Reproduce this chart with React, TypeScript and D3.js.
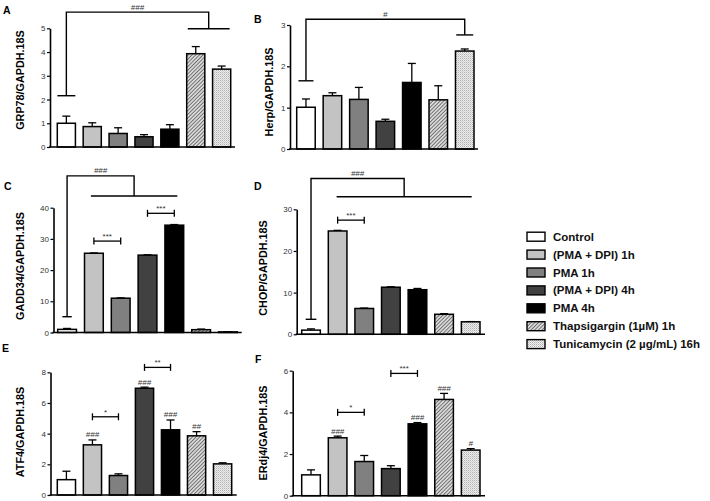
import React, { useEffect, useRef } from "react";
import * as d3 from "d3";

// ---------- data ----------
const categories = [
  "Control",
  "(PMA + DPI) 1h",
  "PMA 1h",
  "(PMA + DPI) 4h",
  "PMA 4h",
  "Thapsigargin (1\u00b5M) 1h",
  "Tunicamycin (2 \u00b5g/mL) 16h",
];

const grp78Mean = [1.0, 0.86, 0.57, 0.43, 0.75, 3.93, 3.28];
const grp78Err = [0.3, 0.16, 0.24, 0.09, 0.19, 0.3, 0.13];
const grp78Ticks = [0, 1, 2, 3, 4, 5];

const herpMean = [1.01, 1.29, 1.2, 0.67, 1.61, 1.19, 2.37];
const herpErr = [0.2, 0.07, 0.29, 0.05, 0.46, 0.34, 0.05];
const herpTicks = [0, 1, 2, 3];

const gadd34Mean = [1.0, 25.4, 11.0, 24.8, 34.4, 0.9, 0.2];
const gadd34Err = [0.3, 0.1, 0.1, 0.1, 0.2, 0.2, 0.05];
const gadd34Ticks = [0, 10, 20, 30, 40];

const chopMean = [1.0, 24.8, 6.2, 11.3, 10.7, 4.8, 3.0];
const chopErr = [0.3, 0.15, 0.1, 0.1, 0.3, 0.15, 0.05];
const chopTicks = [0, 10, 20, 30];

const atf4Mean = [1.0, 3.27, 1.27, 6.96, 4.25, 3.86, 2.03];
const atf4Err = [0.55, 0.32, 0.11, 0.07, 0.64, 0.27, 0.07];
const atf4Ticks = [0, 2, 4, 6, 8];
const atf4Hash = ["", "###", "", "###", "###", "##", ""];

const erdj4Mean = [1.0, 2.78, 1.64, 1.3, 3.45, 4.62, 2.19];
const erdj4Err = [0.24, 0.08, 0.29, 0.14, 0.06, 0.29, 0.07];
const erdj4Ticks = [0, 2, 4, 6];
const erdj4Hash = ["", "###", "", "", "###", "###", "#"];

// significance brackets (values in data units)
const gadd34Stars = [
  { from: 1, to: 2, y: 29.3, label: "***" },
  { from: 3, to: 4, y: 38.2, label: "***" },
];
const chopStars = [{ from: 1, to: 2, y: 27.4, label: "***" }];
const atf4Stars = [
  { from: 1, to: 2, y: 5.1, label: "*" },
  { from: 3, to: 4, y: 8.32, label: "**" },
];
const erdj4Stars = [
  { from: 1, to: 2, y: 4.0, label: "*" },
  { from: 3, to: 4, y: 5.87, label: "***" },
];

const grp78Group = { ref: 0, capY: 2.16, topY: 5.68, groupY: 4.98, from: 5, to: 6, label: "###" };
const herpGroup = { ref: 0, capY: 1.65, topY: 3.14, groupY: 2.76, from: 6, to: 6, label: "#" };
const gadd34Group = { ref: 0, capY: 5.06, topY: 50.2, groupY: 43.75, from: 1, to: 4, label: "###" };
const chopGroup = { ref: 0, capY: 3.6, topY: 37.4, groupY: 33.0, from: 1, to: 6, label: "###" };

// ---------- styles ----------
const fills = ["#ffffff", "#c3c3c3", "#808080", "#414141", "#000000", "url(#hatch)", "url(#dots)"];
const FONT = "'Liberation Sans', Arial, sans-serif";

type Group = { ref: number; capY: number; topY: number; groupY: number; from: number; to: number; label: string };
type Star = { from: number; to: number; y: number; label: string };

const panels = [
  { id: "A", label: "GRP78/GAPDH.18S", mean: grp78Mean, err: grp78Err, ticks: grp78Ticks,
    axisX: 50, y0: 147, yTop: 28.3, bx0: 57.3, bx1: 230.7, xEnd: 235,
    letterX: 3, letterY: 14, labelX: 24, labelY: 80, hash: null, stars: [] as Star[],
    group: grp78Group as Group | null, capW: 18, ext: 8 },
  { id: "B", label: "Herp/GAPDH.18S", mean: herpMean, err: herpErr, ticks: herpTicks,
    axisX: 290, y0: 149, yTop: 25, bx0: 296.7, bx1: 474, xEnd: 478,
    letterX: 254, letterY: 23, labelX: 273, labelY: 92, hash: null, stars: [] as Star[],
    group: herpGroup as Group | null, capW: 15, ext: 8.5 },
  { id: "C", label: "GADD34/GAPDH.18S", mean: gadd34Mean, err: gadd34Err, ticks: gadd34Ticks,
    axisX: 53.5, y0: 332.5, yTop: 207.7, bx0: 57.7, bx1: 237.3, xEnd: 241.7,
    letterX: 4, letterY: 189.5, labelX: 24, labelY: 266, hash: null, stars: gadd34Stars,
    group: gadd34Group as Group | null, capW: 9.4, ext: 3 },
  { id: "D", label: "CHOP/GAPDH.18S", mean: chopMean, err: chopErr, ticks: chopTicks,
    axisX: 296.7, y0: 334.3, yTop: 209.3, bx0: 301.7, bx1: 480, xEnd: 485,
    letterX: 254, letterY: 189.5, labelX: 267, labelY: 268, hash: null, stars: chopStars,
    group: chopGroup as Group | null, capW: 10.7, ext: 1 },
  { id: "E", label: "ATF4/GAPDH.18S", mean: atf4Mean, err: atf4Err, ticks: atf4Ticks,
    axisX: 50.5, y0: 495, yTop: 372.3, bx0: 57.3, bx1: 231.7, xEnd: 236.7,
    letterX: 2, letterY: 352, labelX: 24, labelY: 432, hash: atf4Hash, stars: atf4Stars,
    group: null as Group | null, capW: 0, ext: 0 },
  { id: "F", label: "ERdj4/GAPDH.18S", mean: erdj4Mean, err: erdj4Err, ticks: erdj4Ticks,
    axisX: 292.7, y0: 495.7, yTop: 370.7, bx0: 301.7, bx1: 480, xEnd: 485,
    letterX: 255, letterY: 362.5, labelX: 267, labelY: 433, hash: erdj4Hash, stars: erdj4Stars,
    group: null as Group | null, capW: 0, ext: 0 },
];

function YAxis({ scale, x, ticks }: { scale: d3.ScaleLinear<number, number>; x: number; ticks: number[] }) {
  const ref = useRef<SVGGElement>(null);
  useEffect(() => {
    if (!ref.current) return;
    const g = d3.select(ref.current);
    g.selectAll("*").remove();
    g.call(d3.axisLeft(scale).tickValues(ticks).tickSize(3).tickSizeOuter(0).tickPadding(1.5).tickFormat(d3.format("d")));
    g.attr("font-size", 8).attr("font-family", FONT);
    g.select(".domain").attr("stroke", "#000").attr("stroke-width", 1.6);
    g.selectAll(".tick line").attr("stroke", "#000").attr("stroke-width", 1.2);
    g.selectAll(".tick text").attr("fill", "#333");
  }, [scale, ticks]);
  return <g ref={ref} transform={`translate(${x},0)`} />;
}

function Panel({ p }: { p: (typeof panels)[number] }) {
  const maxTick = p.ticks[p.ticks.length - 1];
  const y = d3.scaleLinear().domain([0, maxTick]).range([p.y0, p.yTop]);
  const x = d3.scaleBand<string>().domain(categories).range([p.bx0, p.bx1]).paddingInner(0.3).paddingOuter(0);
  const bw = x.bandwidth();
  const cx = (i: number) => (x(categories[i]) as number) + bw / 2;
  const g = p.group;
  return (
    <g>
      <text x={p.letterX} y={p.letterY} fontSize={10.5} fontWeight="bold" fontFamily={FONT}>{p.id}</text>
      <text
        transform={`translate(${p.labelX},${p.labelY}) rotate(-90)`}
        textAnchor="middle"
        fontSize={10.8}
        fontWeight="bold"
        fontFamily={FONT}
        fill="#000"
      >
        {p.label}
      </text>
      {p.mean.map((v, i) => {
        const c = cx(i);
        const top = y(v + p.err[i]);
        return (
          <g key={i}>
            <line x1={c} x2={c} y1={y(v)} y2={top} stroke="#000" strokeWidth={1.3} />
            <line x1={c - 4} x2={c + 4} y1={top} y2={top} stroke="#000" strokeWidth={1.3} />
            <rect
              x={x(categories[i])}
              y={y(v)}
              width={bw}
              height={Math.max(0, p.y0 - y(v))}
              fill={fills[i]}
              stroke="#000"
              strokeWidth={1.5}
            />
            {p.hash && p.hash[i] ? (
              <text x={c} y={top - 2.5} textAnchor="middle" fontSize={8} fontStyle="italic" fontFamily={FONT} fill="#333">
                {p.hash[i]}
              </text>
            ) : null}
          </g>
        );
      })}
      <line x1={p.axisX - 1} x2={p.xEnd} y1={p.y0} y2={p.y0} stroke="#000" strokeWidth={1.6} />
      <YAxis scale={y} x={p.axisX} ticks={p.ticks} />
      {p.stars.map((s, k) => {
        const x1 = cx(s.from);
        const x2 = cx(s.to);
        const yy = y(s.y);
        return (
          <g key={k}>
            <line x1={x1} x2={x2} y1={yy} y2={yy} stroke="#000" strokeWidth={1.3} />
            <line x1={x1} x2={x1} y1={yy - 3.5} y2={yy + 3.5} stroke="#000" strokeWidth={1.3} />
            <line x1={x2} x2={x2} y1={yy - 3.5} y2={yy + 3.5} stroke="#000" strokeWidth={1.3} />
            <text x={(x1 + x2) / 2} y={yy - 2} textAnchor="middle" fontSize={8} fontFamily={FONT} fill="#333">
              {s.label}
            </text>
          </g>
        );
      })}
      {g ? (() => {
        const rx = cx(g.ref);
        const gx1 = cx(g.from) - p.ext;
        const gx2 = cx(g.to) + p.ext;
        const gm = (gx1 + gx2) / 2;
        const ty = y(g.topY);
        return (
          <g fill="none" stroke="#000" strokeWidth={1.4}>
            <line x1={rx - p.capW / 2} x2={rx + p.capW / 2} y1={y(g.capY)} y2={y(g.capY)} />
            <path d={`M${rx},${y(g.capY)}V${ty}H${gm}V${y(g.groupY)}`} />
            <line x1={gx1} x2={gx2} y1={y(g.groupY)} y2={y(g.groupY)} />
            <text x={(rx + gm) / 2} y={ty - 2.5} textAnchor="middle" fontSize={8} fontStyle="italic" fontFamily={FONT} fill="#333" stroke="none">
              {g.label}
            </text>
          </g>
        );
      })() : null}
    </g>
  );
}

export default function App() {
  return (
    <svg width={710} height={501} style={{ position: "absolute", left: 0, top: 0, background: "#fff" }}>
      <defs>
        <pattern id="hatch" width={2.6} height={2.6} patternUnits="userSpaceOnUse" patternTransform="rotate(45)">
          <rect width={2.6} height={2.6} fill="#d8d8d8" />
          <line x1={0} y1={0} x2={0} y2={2.6} stroke="#444" strokeWidth={1.3} />
        </pattern>
        <pattern id="dots" width={2} height={2} patternUnits="userSpaceOnUse">
          <rect width={2} height={2} fill="#eeeeee" />
          <rect width={1} height={1} fill="#b0b0b0" />
          <rect x={1} y={1} width={1} height={1} fill="#cfcfcf" />
        </pattern>
      </defs>
      <rect width={710} height={501} fill="#fff" />
      {panels.map((p) => (
        <Panel key={p.id} p={p} />
      ))}
      <g fontFamily={FONT} fontWeight="bold" fontSize={11.5}>
        {categories.map((c, i) => {
          const cy = 236.7 + i * 17.9;
          return (
            <g key={c}>
              <rect x={527} y={cy - 4.5} width={18} height={9} fill={fills[i]} stroke="#000" strokeWidth={1.4} />
              <text x={553} y={cy} dominantBaseline="central" fill="#111">{c}</text>
            </g>
          );
        })}
      </g>
    </svg>
  );
}
